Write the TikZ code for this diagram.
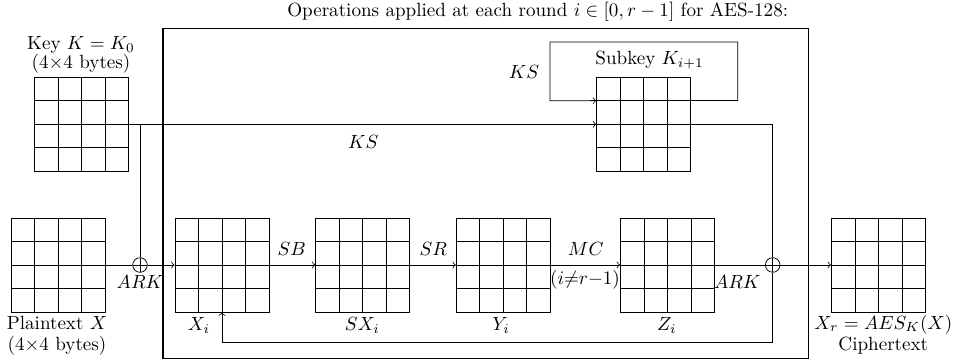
\documentclass[tikz,border=0pt]{standalone}
\usetikzlibrary{calc}
\begin{document}
\begin{tikzpicture}[x=0.524pt,y=-0.524pt,
  state/.style={draw, minimum size=49.26pt, inner sep=0pt,
    path picture={
      \foreach \k in {1,2,3}{
        \draw ($(path picture bounding box.south west)!\k/4!(path picture bounding box.south east)$) --
              ($(path picture bounding box.north west)!\k/4!(path picture bounding box.north east)$);
        \draw ($(path picture bounding box.south west)!\k/4!(path picture bounding box.north west)$) --
              ($(path picture bounding box.south east)!\k/4!(path picture bounding box.north east)$);
      }}},
  xor/.style={draw, circle, minimum size=7.65pt, inner sep=0pt,
    path picture={\draw (path picture bounding box.north) -- (path picture bounding box.south)
                        (path picture bounding box.west) -- (path picture bounding box.east);}},
  lbl/.style={inner sep=0pt},
  blbl/.style={inner sep=0pt, anchor=base},
  flow/.style={->},
  roundbox/.style={draw, thick, minimum width=338.1pt, minimum height=172.9pt, inner sep=0pt}
]
\useasboundingbox (0,0) rectangle (956,363);

% main round box
\node[roundbox] (rbox) at (485.7,193.3) {};
\node[blbl] (title) at (537.7,16.5) {Operations applied at each round $i \in [0, r-1]$ for AES-128:};

% states
\node[state] (key) at (81.5,124.3) {};
\node[state] (plain) at (58,265) {};
\node[state] (xi) at (222,265) {};
\node[state] (sxi) at (362.7,265) {};
\node[state] (yi) at (503.3,265) {};
\node[state] (zi) at (667.5,265) {};
\node[state] (ciph) at (878.5,265) {};
\node[state] (sub) at (643.7,124.3) {};

% xors
\node[xor] (xor1) at (140,265) {};
\node[xor] (xor2) at (772.7,265) {};

% helper coordinates
\coordinate (kjoin) at (xor1 |- key.east);
\coordinate (subR) at ($(sub.north east)!0.25!(sub.south east)$);
\coordinate (subL) at ($(sub.north west)!0.25!(sub.south west)$);
\coordinate (loopA) at (737.7,42);
\coordinate (loopB) at (550,100.8);
\coordinate (fbk) at (772.7,342.3);

% key schedule
\draw[flow] (key.east) -- (sub.west);
\draw (kjoin) -- (xor1.north);
\draw (sub.east) -| (xor2.north);
\draw[flow] (subR) -| (loopA) -| (loopB) -- (subL);

% data path
\draw (plain.east) -- (xor1.west);
\draw[flow] (xor1.east) -- (xi.west);
\draw[flow] (xi.east) -- (sxi.west);
\draw[flow] (sxi.east) -- (yi.west);
\draw[flow] (yi.east) -- (zi.west);
\draw (zi.east) -- (xor2.west);
\draw[flow] (xor2.east) -- (ciph.west);
\draw[flow] (xor2.south) -- (fbk) -| (xi.south);

% labels
\node[blbl] at (81,49.5) {Key $K=K_0$};
\node[blbl] at (81,68.5) {(4$\times$4 bytes)};
\node[blbl] at (57,329) {Plaintext $X$};
\node[blbl] at (57,350.3) {(4$\times$4 bytes)};
\node[lbl] at (649.5,60) {Subkey $K_{i+1}$};
\node[lbl] at (524,72) {$KS$};
\node[lbl] at (363.3,141.7) {$KS$};
\node[lbl] at (291.7,249) {$SB$};
\node[lbl] at (433.3,249) {$SR$};
\node[lbl] at (585.7,249) {$MC$};
\node[lbl] at (585,279.3) {$(i{\neq}r{-}1)$};
\node[lbl] at (140,281.7) {$ARK$};
\node[lbl] at (737.3,281.7) {$ARK$};
\node[lbl] at (199,325.7) {$X_i$};
\node[lbl] at (362.3,325.7) {$SX_i$};
\node[lbl] at (501,325.7) {$Y_i$};
\node[lbl] at (666.7,325.7) {$Z_i$};
\node[blbl] at (883.3,329) {$X_r = AES_K(X)$};
\node[blbl] at (883.3,350) {Ciphertext};
\end{tikzpicture}
\end{document}
